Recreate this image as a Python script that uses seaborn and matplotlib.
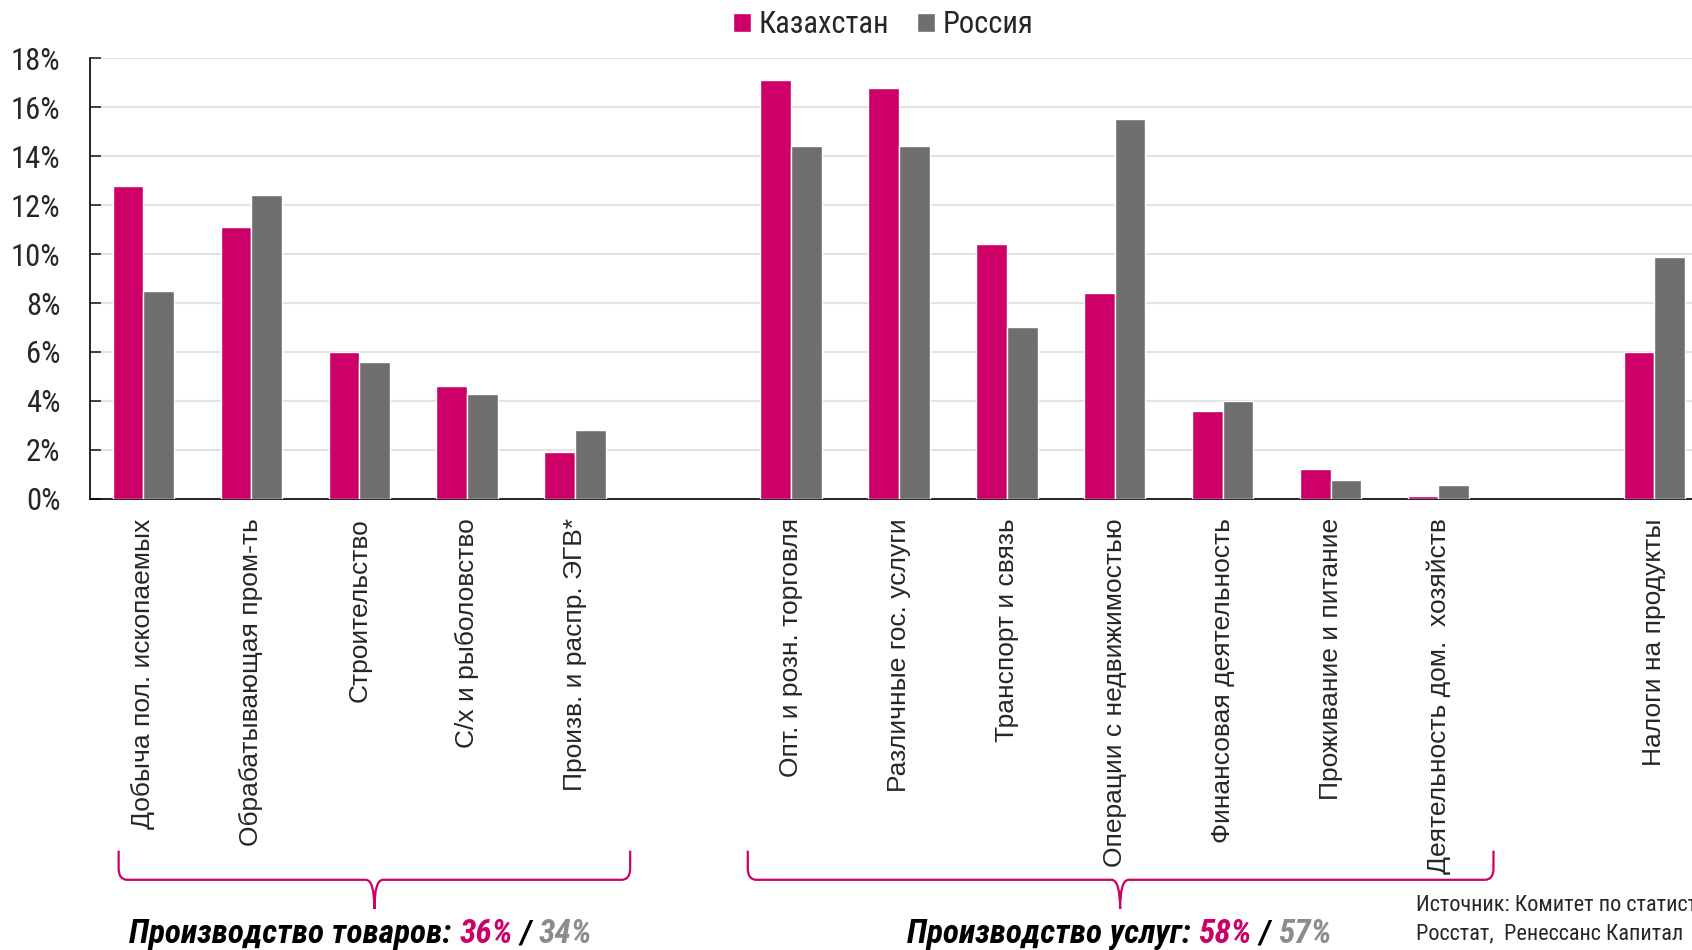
import numpy as np
import pandas as pd
import matplotlib
matplotlib.use('Agg')
import matplotlib.pyplot as plt
import matplotlib.transforms as mtransforms
from matplotlib.path import Path
from matplotlib.patches import PathPatch
import seaborn as sns

# Данные (доля в ВВП, %)
categories = ['Добыча пол. ископаемых', 'Обрабатывающая пром-ть', 'Строительство',
              'С/х и рыболовство', 'Произв. и распр. ЭГВ*',
              'Опт. и розн. торговля', 'Различные гос. услуги', 'Транспорт и связь',
              'Операции с недвижимостью', 'Финансовая деятельность',
              'Проживание и питание', 'Деятельность дом.  хозяйств',
              'Налоги на продукты']
kazakhstan = [12.8, 11.1, 6.0, 4.6, 1.9, 17.1, 16.8, 10.4, 8.4, 3.6, 1.2, 0.1, 6.0]
russia = [8.5, 12.4, 5.6, 4.3, 2.8, 14.4, 14.4, 7.0, 15.5, 4.0, 0.75, 0.55, 9.9]
order = categories[:5] + [' '] + categories[5:12] + ['  '] + categories[12:]
series = ['Казахстан', 'Россия']
colors = ['#CC0066', '#6E6E6E']
yticks = [0, 2, 4, 6, 8, 10, 12, 14, 16, 18]

df = pd.DataFrame({
    'Отрасль': categories * 2,
    'Страна': [series[0]] * len(categories) + [series[1]] * len(categories),
    'Доля': kazakhstan + russia,
})

sns.set_style('white')
narrow = ['Roboto Condensed', 'PT Sans Narrow', 'DejaVu Sans']
plt.rcParams['font.family'] = narrow

fig = plt.figure(figsize=(16.92, 9.5), dpi=100)
ax = fig.add_axes([0.0529, 0.475, 0.9567, 0.4636])

sns.barplot(data=df, x='Отрасль', y='Доля', hue='Страна', order=order,
            hue_order=series, palette=colors, width=0.57, saturation=1,
            errorbar=None, ax=ax, zorder=3)

ax.set_xlim(-0.5, 14.5)
ax.set_ylim(0, 18)
ax.set_yticks(yticks)
ax.set_yticklabels([f'{v}%' for v in yticks], fontsize=22)
ax.yaxis.grid(True, color='#E3E3E3', linewidth=1.5, zorder=0)
ax.set_axisbelow(True)
ax.tick_params(axis='y', direction='in', length=8, width=1.2, pad=21, left=True)
ax.tick_params(axis='x', length=0, pad=14)
ax.set_xticks(range(len(order)))
ax.set_xticklabels(order, rotation=90, fontsize=19, family=['Liberation Sans', 'DejaVu Sans'],
                   va='top')
ax.set_xlabel('')
ax.set_ylabel('')
for s in ['top', 'right']:
    ax.spines[s].set_visible(False)
ax.spines['left'].set_color('black')
ax.spines['bottom'].set_color('black')
ax.spines['left'].set_linewidth(1.2)
ax.spines['bottom'].set_linewidth(1.2)

ax.legend(loc='center', bbox_to_anchor=(0.522, 0.974), bbox_transform=fig.transFigure,
          ncol=2, frameon=False, fontsize=22, handlelength=0.6, handleheight=0.6,
          handletextpad=0.25, columnspacing=0.9, borderpad=0)

# Фигурные скобки под подписями
trans = mtransforms.blended_transform_factory(ax.transData, fig.transFigure)


def brace(x0, x1, xc, ytop=0.1045, yh=0.0739, ytip=0.0432, dx=0.08, dy=0.012):
    verts = [(x0, ytop), (x0, yh + dy), (x0, yh), (x0 + dx, yh),
             (xc - dx, yh), (xc, yh), (xc, ytip),
             (xc, yh), (xc + dx, yh),
             (x1 - dx, yh), (x1, yh), (x1, yh + dy), (x1, ytop)]
    codes = [Path.MOVETO, Path.LINETO, Path.CURVE3, Path.CURVE3,
             Path.LINETO, Path.CURVE3, Path.CURVE3,
             Path.CURVE3, Path.CURVE3,
             Path.LINETO, Path.CURVE3, Path.CURVE3, Path.LINETO]
    patch = PathPatch(Path(verts, codes), facecolor='none', edgecolor='#CC0066',
                      linewidth=1.6, transform=trans, clip_on=False)
    fig.add_artist(patch)


brace(-0.23, 4.51, 2.14)
brace(5.6, 12.51, 9.05)

renderer = fig.canvas.get_renderer()


def multicolor(x, y, parts, **kw):
    for s, c in parts:
        t = fig.text(x, y, s, color=c, va='baseline', **kw)
        bb = t.get_window_extent(renderer=renderer)
        x += bb.width / fig.bbox.width


bold = dict(fontsize=24, fontweight='bold', fontstyle='italic')
multicolor(0.0765, 0.007, [('Производство товаров: ', 'black'), ('36%', '#CC0066'),
                           (' / ', 'black'), ('34%', '#8C8C8C')], **bold)
multicolor(0.536, 0.007, [('Производство услуг: ', 'black'), ('58%', '#CC0066'),
                          (' / ', 'black'), ('57%', '#8C8C8C')], **bold)

fig.text(0.837, 0.0477, 'Источник: Комитет по статистике РК,', fontsize=16, va='center')
fig.text(0.837, 0.017, 'Росстат,  Ренессанс Капитал', fontsize=16, va='center')

fig.savefig('out.png', dpi=100)
